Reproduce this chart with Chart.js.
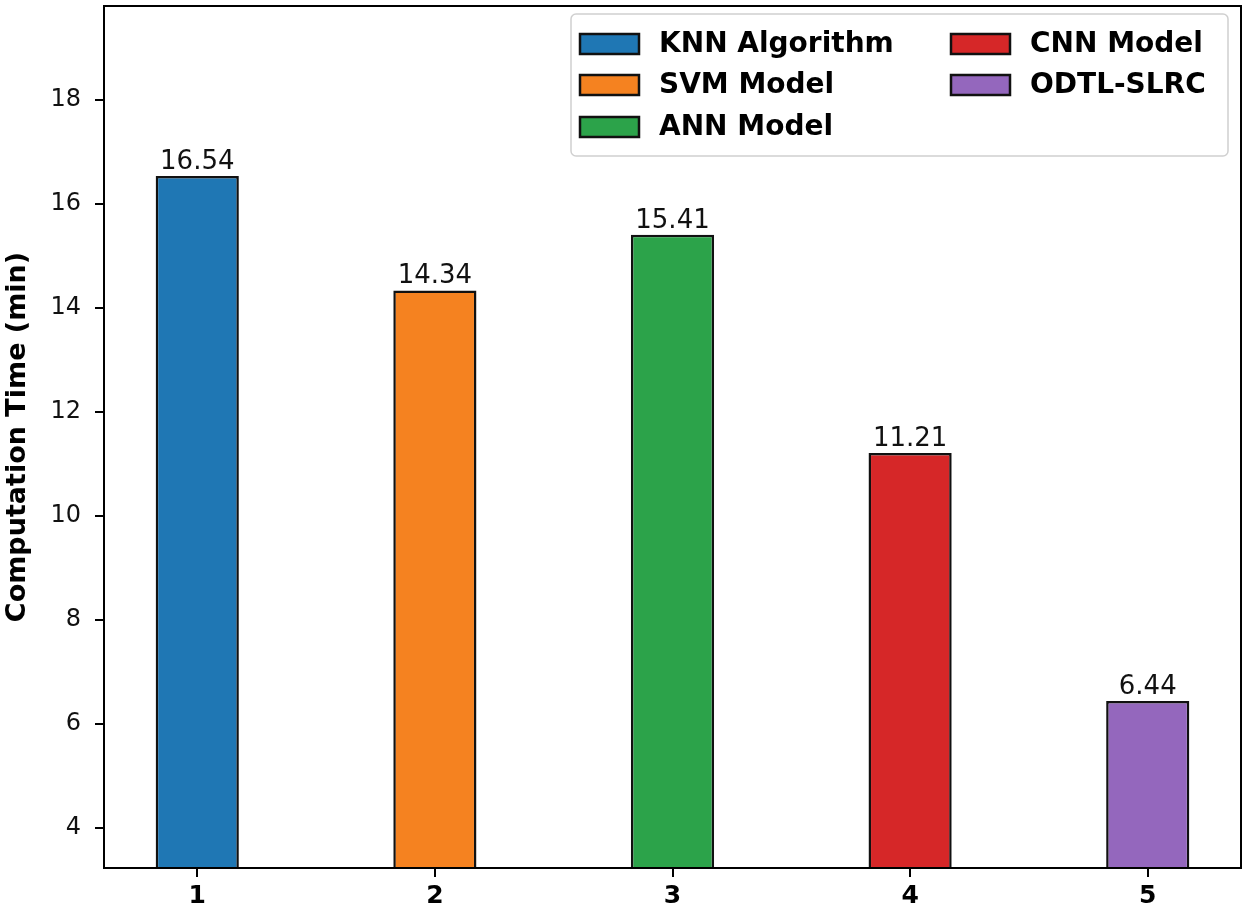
<!DOCTYPE html>
<html>
<head>
<meta charset="utf-8">
<script src="https://cdn.jsdelivr.net/npm/chart.js@4.4.0/dist/chart.umd.min.js"></script>
<style>
  html, body { margin: 0; padding: 0; background: #fff; }
  #wrap { width: 1250px; height: 915px; }
</style>
</head>
<body>
<div id="wrap"><canvas id="chart" width="1250" height="915"></canvas></div>
<script>
// data
const positions = [1, 2, 3, 4, 5];
const models = ['KNN Algorithm', 'SVM Model', 'ANN Model', 'CNN Model', 'ODTL-SLRC'];
const times = [16.54, 14.34, 15.41, 11.21, 6.44];
const colors = ['#1f77b4', '#f58220', '#2ca34a', '#d62728', '#9467bd'];
const yTicks = [4, 6, 8, 10, 12, 14, 16, 18];

const FONT = "'DejaVu Sans', sans-serif";

const datasets = models.map((m, i) => ({
  label: m,
  data: [{ x: positions[i], y: times[i] }],
  backgroundColor: colors[i],
  borderColor: '#111',
  borderWidth: 2.5,
  borderSkipped: false,
  grouped: false,
  barPercentage: 0.35,
  categoryPercentage: 1,
}));

// frame, value labels and in-plot legend
const extras = {
  id: 'extras',
  afterDatasetsDraw(chart) {
    const { ctx, chartArea } = chart;
    ctx.save();
    ctx.strokeStyle = '#000';
    ctx.lineWidth = 2;
    ctx.strokeRect(chartArea.left, chartArea.top, chartArea.right - chartArea.left, chartArea.bottom - chartArea.top);

    ctx.fillStyle = '#111';
    ctx.font = `26px ${FONT}`;
    ctx.textAlign = 'center';
    ctx.textBaseline = 'bottom';
    chart.data.datasets.forEach((ds, i) => {
      const bar = chart.getDatasetMeta(i).data[0];
      ctx.fillText(ds.data[0].y.toFixed(2), bar.x, bar.y - 1);
    });

    // legend box
    const lx = 571, ly = 14, lw = 657, lh = 142;
    ctx.beginPath();
    ctx.roundRect(lx, ly, lw, lh, 5);
    ctx.fillStyle = 'rgba(255,255,255,0.85)';
    ctx.fill();
    ctx.strokeStyle = '#d0d0d0';
    ctx.lineWidth = 1.5;
    ctx.stroke();

    ctx.font = `bold 28px ${FONT}`;
    ctx.textAlign = 'left';
    ctx.textBaseline = 'middle';
    const cols = [580, 951];
    const rows = [44, 85, 127];
    chart.data.datasets.forEach((ds, i) => {
      const c = i < 3 ? 0 : 1;
      const r = i < 3 ? i : i - 3;
      const px = cols[c], py = rows[r];
      ctx.fillStyle = ds.backgroundColor;
      ctx.fillRect(px, py - 10, 59, 20);
      ctx.strokeStyle = '#111';
      ctx.lineWidth = 2.5;
      ctx.strokeRect(px, py - 10, 59, 20);
      ctx.fillStyle = '#000';
      ctx.fillText(ds.label, px + 79, py + 1);
    });
    ctx.restore();
  }
};

new Chart(document.getElementById('chart'), {
  type: 'bar',
  data: { datasets },
  plugins: [extras],
  options: {
    responsive: false,
    animation: false,
    layout: { padding: { top: 6, right: 9, left: 0, bottom: 0 } },
    plugins: {
      legend: { display: false },
      tooltip: { enabled: false },
    },
    scales: {
      x: {
        type: 'linear',
        offset: false,
        min: 0.6075,
        max: 5.3925,
        afterBuildTicks: (s) => { s.ticks = positions.map(v => ({ value: v })); },
        afterFit: (s) => { s.height = 47; s.paddingLeft = 0; s.paddingRight = 0; },
        grid: { offset: false, drawOnChartArea: false, drawTicks: true, tickLength: 9, color: '#000', lineWidth: 2 },
        border: { display: false },
        ticks: { color: '#000', font: { family: FONT, size: 25, weight: 'bold' }, padding: 4 },
      },
      y: {
        min: 3.23,
        max: 19.81,
        afterBuildTicks: (s) => { s.ticks = yTicks.map(v => ({ value: v })); },
        afterFit: (s) => { s.width = 104; s.paddingTop = 0; s.paddingBottom = 0; },
        grid: { drawOnChartArea: false, drawTicks: true, tickLength: 9, color: '#000', lineWidth: 2 },
        border: { display: false },
        ticks: { color: '#111', font: { family: FONT, size: 24 }, padding: 14 },
        title: {
          display: true,
          text: 'Computation Time (min)',
          color: '#000',
          font: { family: FONT, size: 27, weight: 'bold' },
          padding: { top: 2, bottom: 0 },
        },
      },
    },
  },
});
</script>
</body>
</html>
